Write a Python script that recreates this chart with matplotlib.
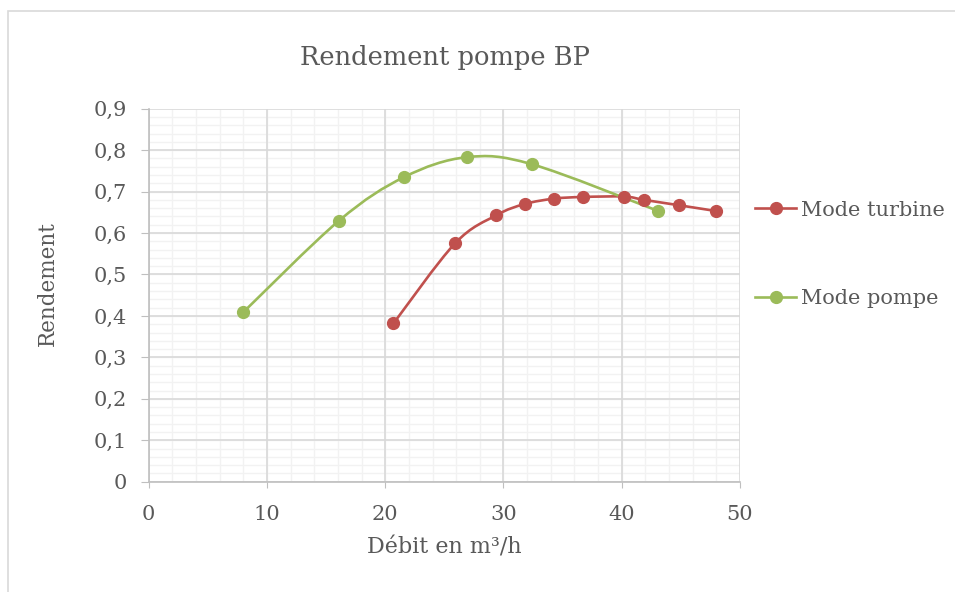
import numpy as np
import matplotlib
matplotlib.use("Agg")
import matplotlib.pyplot as plt
from matplotlib.path import Path
from matplotlib.patches import PathPatch, Rectangle
from matplotlib.lines import Line2D

# données mesurées
debit_turbine = [20.7, 25.9, 29.4, 31.8, 34.3, 36.7, 40.2, 41.9, 44.85, 48.0]
rend_turbine = [0.382, 0.575, 0.643, 0.670, 0.683, 0.687, 0.688, 0.680, 0.667, 0.653]
debit_pompe = [8.0, 16.1, 21.6, 26.9, 32.4, 43.1]
rend_pompe = [0.409, 0.630, 0.735, 0.783, 0.766, 0.653]

ROUGE = "#C0504D"
VERT = "#9BBB59"
GRIS_TXT = "#595959"

plt.rcParams["font.family"] = ["DejaVu Serif"]


def courbe_lissee(x, y):
    # courbe de Bezier façon "lissage" Excel
    p = np.column_stack([x, y])
    n = len(p)
    verts = [p[0]]
    codes = [Path.MOVETO]
    for i in range(n - 1):
        p0 = p[i - 1] if i > 0 else p[i]
        p1 = p[i]
        p2 = p[i + 1]
        p3 = p[i + 2] if i + 2 < n else p[i + 1]
        c1 = p1 + (p2 - p0) / 6.0
        c2 = p2 - (p3 - p1) / 6.0
        verts += [c1, c2, p2]
        codes += [Path.CURVE4] * 3
    return Path(verts, codes)


fig = plt.figure(figsize=(9.55, 5.92), dpi=100)
ax = fig.add_axes([148.7 / 955, 1 - 481.7 / 592, (740 - 148.7) / 955, (481.7 - 108.7) / 592])

# cadre du graphique
fig.patches.append(Rectangle((8 / 955, -0.05), 1.1, 1 - 10.5 / 592 + 0.05,
                             transform=fig.transFigure, fill=False,
                             edgecolor="#D9D9D9", lw=1.2))

# quadrillage secondaire sous le quadrillage principal
ax.vlines(np.arange(2, 50, 2), 0, 0.9, color="#F2F2F2", lw=1.0, zorder=0.1)
ax.hlines(np.arange(0.02, 0.9, 0.02), 0, 50, color="#F2F2F2", lw=1.0, zorder=0.1)

for x, y, c in [(debit_turbine, rend_turbine, ROUGE), (debit_pompe, rend_pompe, VERT)]:
    ax.add_patch(PathPatch(courbe_lissee(x, y), fill=False, edgecolor=c, lw=1.9,
                           capstyle="round", zorder=3))
    ax.plot(x, y, linestyle="none", marker="o", ms=8.5, color=c, zorder=4)

ax.set_xlim(0, 50)
ax.set_ylim(0, 0.9)
ax.set_xticks(np.arange(0, 51, 10))
ax.set_yticks(np.arange(0, 0.91, 0.1))
ax.set_yticklabels(["0" if v == 0 else f"{v:.1f}".replace(".", ",") for v in np.arange(0, 0.91, 0.1)])
ax.grid(True, which="major", color="#D9D9D9", lw=1.2)
ax.set_axisbelow(True)
for s in ["top", "right"]:
    ax.spines[s].set_visible(False)
for s in ["left", "bottom"]:
    ax.spines[s].set_color("#BFBFBF")
    ax.spines[s].set_linewidth(1.2)
ax.tick_params(axis="x", direction="out", length=4.3, color="#BFBFBF",
               labelsize=15, labelcolor=GRIS_TXT, pad=12.5)
ax.tick_params(axis="y", direction="out", length=5.8, color="#BFBFBF",
               labelsize=15, labelcolor=GRIS_TXT, pad=10)

ax.set_xlabel("Débit en m³/h", fontsize=16, color=GRIS_TXT)
ax.xaxis.set_label_coords(0.5, (481.7 - 537) / 373)
ax.set_ylabel("Rendement", fontsize=15.5, color=GRIS_TXT)
ax.yaxis.set_label_coords((59 - 148.7) / 591.3, (481.7 - 283.5) / 373)
fig.text(445 / 955, 1 - 57 / 592, "Rendement pompe BP", fontsize=18.5, color=GRIS_TXT,
         ha="center", va="center")

handles = [Line2D([0], [0], color=ROUGE, lw=1.9, marker="o", ms=8.5),
           Line2D([0], [0], color=VERT, lw=1.9, marker="o", ms=8.5)]
fig.legend(handles, ["Mode turbine", "Mode pompe"], loc="center left",
           bbox_to_anchor=(736 / 955, 1 - 254.5 / 592), frameon=False,
           fontsize=15, labelcolor=GRIS_TXT, handlelength=2.0, handletextpad=0.2,
           labelspacing=3.35)

fig.savefig("out.png", dpi=100)
